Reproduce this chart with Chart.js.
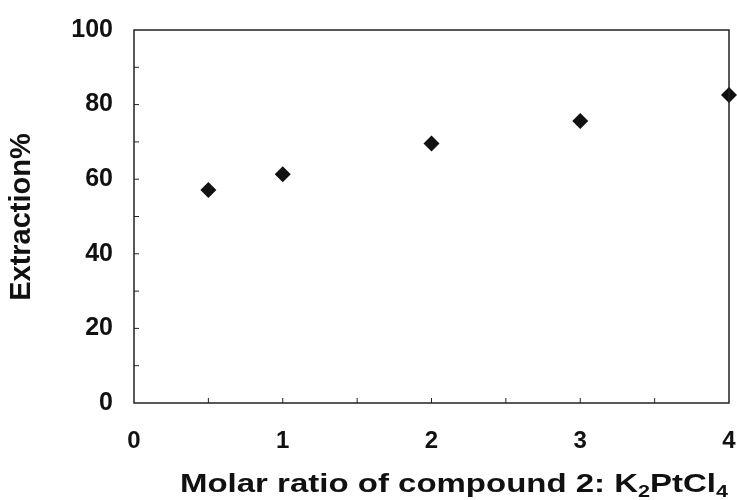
<!DOCTYPE html>
<html>
<head>
<meta charset="utf-8">
<script src="https://cdn.jsdelivr.net/npm/chart.js@4.4.1/dist/chart.umd.min.js"></script>
<style>
  html, body { margin: 0; padding: 0; background: #fff; }
  #wrap { width: 737px; height: 500px; }
</style>
</head>
<body>
<div id="wrap"><canvas id="c"></canvas></div>
<script>
// data
const ratios = [0.5, 1, 2, 3, 4];
const extraction = [57.1, 61.3, 69.6, 75.6, 82.6];
const xTickLabels = [0, 1, 2, 3, 4];
const yTickLabels = [0, 20, 40, 60, 80, 100];

const FONT = "'Liberation Sans', Arial, sans-serif";

// frame + inward minor ticks + axis titles
const framePlugin = {
  id: "frame",
  afterDraw(chart) {
    const { ctx, chartArea: a, scales } = chart;
    ctx.save();
    ctx.strokeStyle = "#222";
    ctx.lineWidth = 1.5;
    ctx.strokeRect(a.left, a.top, a.right - a.left, a.bottom - a.top);

    // y ticks every 10, pointing in
    ctx.lineWidth = 1;
    for (let v = 10; v < 100; v += 10) {
      const y = scales.y.getPixelForValue(v);
      ctx.beginPath();
      ctx.moveTo(a.left, y);
      ctx.lineTo(a.left + 5, y);
      ctx.stroke();
    }
    // x ticks every 0.5, pointing in
    for (let v = 0.5; v < 4; v += 0.5) {
      const x = scales.x.getPixelForValue(v);
      ctx.beginPath();
      ctx.moveTo(x, a.bottom);
      ctx.lineTo(x, a.bottom - 5);
      ctx.stroke();
    }

    ctx.fillStyle = "#111";
    // y title
    ctx.save();
    ctx.translate(22, 217);
    ctx.rotate(-Math.PI / 2);
    ctx.font = "bold 29px " + FONT;
    ctx.textAlign = "center";
    ctx.textBaseline = "middle";
    ctx.fillText("Extraction%", 0, 0);
    ctx.restore();

    // x title with subscripts, stretched wide like the scan
    const parts = [
      ["Molar ratio of compound 2: K", false],
      ["2", true],
      ["PtCl", false],
      ["4", true]
    ];
    const big = "bold 26px " + FONT, small = "bold 17px " + FONT;
    let w = 0;
    parts.forEach(([t, sub]) => { ctx.font = sub ? small : big; w += ctx.measureText(t).width; });
    const sx = 548 / w;
    ctx.save();
    ctx.translate(454, 492);
    ctx.scale(sx, 1);
    ctx.textBaseline = "alphabetic";
    ctx.textAlign = "left";
    let x = -w / 2;
    parts.forEach(([t, sub]) => {
      ctx.font = sub ? small : big;
      ctx.fillText(t, x, sub ? 5 : 0);
      x += ctx.measureText(t).width;
    });
    ctx.restore();
    ctx.restore();
  }
};

function noPad(s) {
  s.paddingLeft = 0; s.paddingRight = 0; s.paddingTop = 0; s.paddingBottom = 0;
}

new Chart(document.getElementById("c"), {
  type: "scatter",
  data: {
    datasets: [{
      data: ratios.map((r, i) => ({ x: r, y: extraction[i] })),
      pointStyle: "rectRot",
      pointRadius: 8,
      pointHoverRadius: 8,
      backgroundColor: "#111",
      borderColor: "#111",
      borderWidth: 0,
      clip: false
    }]
  },
  options: {
    responsive: true,
    maintainAspectRatio: false,
    animation: false,
    layout: { padding: { top: 30, right: 5, left: 0, bottom: 0 } },
    plugins: { legend: { display: false }, tooltip: { enabled: false } },
    scales: {
      x: {
        type: "linear",
        min: 0, max: 4,
        afterFit(s) { s.height = 97; noPad(s); },
        afterBuildTicks(s) { s.ticks = xTickLabels.map(v => ({ value: v })); },
        grid: { display: false, drawTicks: false },
        border: { display: false },
        ticks: {
          padding: 24,
          color: "#111",
          font: { family: FONT, size: 24, weight: "bold" },
          maxRotation: 0
        }
      },
      y: {
        min: 0, max: 100,
        afterFit(s) { s.width = 134; noPad(s); },
        afterBuildTicks(s) { s.ticks = yTickLabels.map(v => ({ value: v })); },
        grid: { display: false, drawTicks: false },
        border: { display: false },
        ticks: {
          padding: 21,
          color: "#111",
          font: { family: FONT, size: 25, weight: "bold" }
        }
      }
    }
  },
  plugins: [framePlugin]
});
</script>
</body>
</html>
